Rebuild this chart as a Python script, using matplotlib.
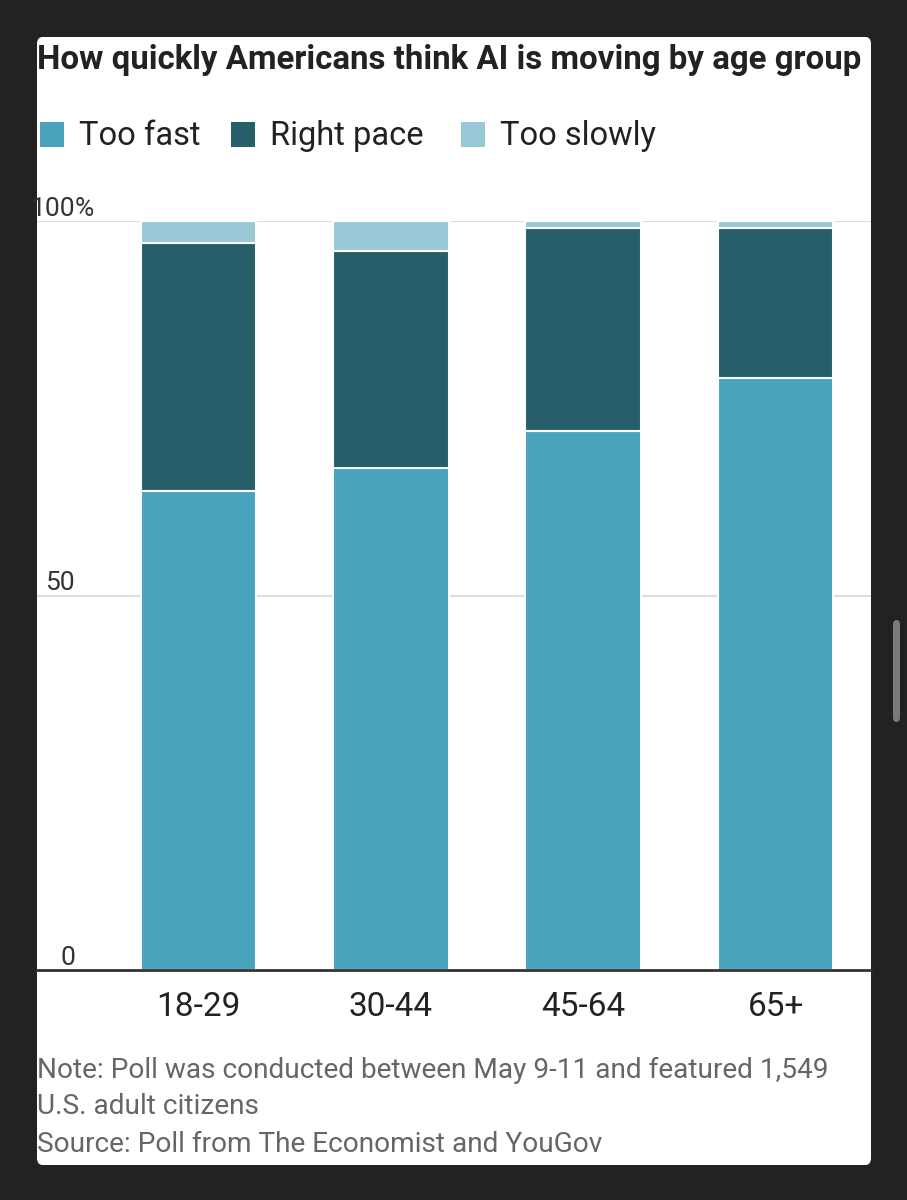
import matplotlib
matplotlib.use("Agg")
import matplotlib.pyplot as plt
from matplotlib.patches import FancyBboxPatch, Rectangle

categories = ["18-29", "30-44", "45-64", "65+"]
too_fast = [64, 67, 72, 79]
right_pace = [33, 29, 27, 20]
too_slowly = [3, 4, 1, 1]
series_names = ["Too fast", "Right pace", "Too slowly"]
colors = ["#4aa3bc", "#265f69", "#98c8d6"]
y_ticks = [0, 50, 100]
y_tick_labels = ["0", "50", "100"]

title = "How quickly Americans think AI is moving by age group"
note_lines = ["Note: Poll was conducted between May 9-11 and featured 1,549",
              "U.S. adult citizens"]
source = "Source: Poll from The Economist and YouGov"

W, H = 907, 1200
fig = plt.figure(figsize=(W / 100, H / 100), dpi=100)
fig.patch.set_facecolor("#222222")

def fx(px):
    return px / W

def fy(py):
    return 1 - py / H

# white card
card = FancyBboxPatch((fx(37), fy(1165)), fx(871) - fx(37), fy(37) - fy(1165),
                      boxstyle="round,pad=0,rounding_size=0.006",
                      transform=fig.transFigure, facecolor="white", edgecolor="none", zorder=-10)
fig.patches.append(card)

# scrollbar
sb = FancyBboxPatch((fx(893), fy(722)), fx(7), fy(620) - fy(722),
                    boxstyle="round,pad=0,rounding_size=0.004",
                    transform=fig.transFigure, facecolor="#7a7a7a", edgecolor="none", zorder=-10)
fig.patches.append(sb)

FONT = "Roboto"

fig.text(fx(37), fy(60), title, fontsize=23.8, fontweight="bold", color="#222222",
         family=FONT, ha="left", va="center")

# legend
leg_x = [40, 231, 461]
for name, c, x in zip(series_names, colors, leg_x):
    fig.patches.append(Rectangle((fx(x), fy(147)), fx(24), fy(122) - fy(147),
                                 transform=fig.transFigure, facecolor=c, edgecolor="none"))
    fig.text(fx(x + 39), fy(136), name, fontsize=23.5, color="#222222", family=FONT,
             ha="left", va="center")

ax = fig.add_axes([fx(37), fy(970), fx(871) - fx(37), fy(221) - fy(970)], zorder=5)
ax.set_facecolor("none")
x = list(range(len(categories)))
bottom = [0] * len(categories)
for vals, c in zip([too_fast, right_pace, too_slowly], colors):
    ax.bar(x, vals, bottom=bottom, width=0.6, color=c, edgecolor="white", linewidth=1.5,
           zorder=3)
    bottom = [b + v for b, v in zip(bottom, vals)]

ax.set_ylim(0, 100)
ax.set_xlim(-0.839, 3.496)
for t in y_ticks[1:]:
    ax.axhline(t, color="#dddddd", linewidth=1.5, zorder=1)
ax.axhline(0, color="#333333", linewidth=2, zorder=4, clip_on=False)
for s in ax.spines.values():
    s.set_visible(False)
ax.set_yticks([])
ax.set_xticks(x)
ax.set_xticklabels(categories, fontsize=24, color="#222222", family=FONT)
ax.tick_params(axis="x", length=0, pad=15)

# y labels above gridlines, right-aligned digits
for t, lab in zip(y_ticks, y_tick_labels):
    ax.text(0.0457, t, lab, transform=ax.get_yaxis_transform(), ha="right",
            va="bottom", fontsize=19, color="#333333", family=FONT)
ax.text(0.0457, 100, "%", transform=ax.get_yaxis_transform(), ha="left", va="bottom",
        fontsize=19, color="#333333", family=FONT)

for i, line in enumerate(note_lines):
    fig.text(fx(37), fy(1070 + 37 * i), line, fontsize=20.2, color="#666666", family=FONT,
             ha="left", va="center")
fig.text(fx(37), fy(1145), source, fontsize=20.2, color="#666666", family=FONT, ha="left",
         va="center")

fig.savefig("out.png", dpi=100, facecolor=fig.get_facecolor())
